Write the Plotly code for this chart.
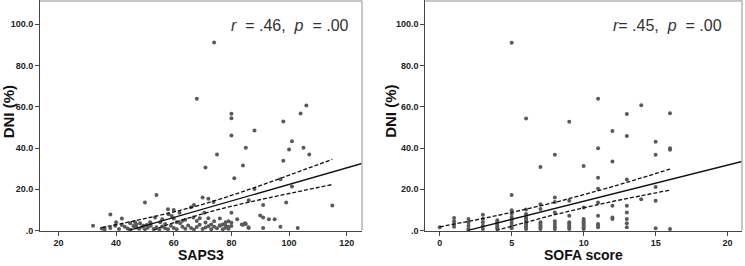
import plotly.graph_objects as go

# ---------------- data ----------------
saps3 = [74, 68, 80, 80, 80, 88, 106, 104, 98, 101, 100, 105, 107, 98, 75, 85, 71, 84, 81, 97,
         88, 101, 115, 99, 91, 50, 54, 70, 72, 38, 42, 32, 58, 60, 62, 66, 67, 80, 82, 86,
         90, 91, 93, 95, 91, 97, 103, 86, 85, 84, 78, 76,
         35, 36, 40, 39.7, 42, 44.9, 46.6, 48.3, 49.5, 50.6, 53.5, 51.8, 55.3, 58.2, 59.3, 61, 62.2,
         66.8, 68, 70.6, 73.8, 76, 77, 78, 79, 80, 83.6, 84.7, 85.9,
         36, 38, 41, 43, 44, 45, 46, 47, 48, 49, 50, 51, 52, 53, 54, 55, 56, 57, 58, 59, 60, 61,
         63, 64, 65, 66, 67, 68, 69, 70, 71, 72, 73, 74, 75, 76, 77, 78, 79, 80,
         56, 60, 64, 69, 72, 74, 57, 47, 52, 63, 71, 73, 79]
saps3_dni = [91.1, 63.9, 56.6, 54.4, 46.1, 48.5, 60.6, 56.7, 52.9, 43.3, 39.3, 40.1, 36.9, 33.8, 36.9, 40.1, 30.6, 31.5, 25.4, 24.9,
             20.1, 21.4, 12.2, 13.6, 12.4, 13.6, 17.3, 16.0, 15.4, 7.8, 5.9, 2.4, 10.3, 10.0, 8.6, 11.3, 12.4, 8.6, 5.5, 14.7,
             7.3, 6.3, 5.5, 5.5, 1.3, 1.9, 1.3, 1.3, 3.2, 2.8, 2.4, 5.9,
             1.0, 1.3, 4.0, 2.4, 2.7, 3.5, 4.0, 3.6, 2.4, 2.7, 6.3, 4.0, 4.0, 7.9, 7.1, 4.0, 3.6,
             6.3, 4.7, 8.7, 13.8, 2.4, 3.0, 4.0, 4.5, 3.8, 3.0, 3.5, 1.6,
             0.5, 1.2, 0.8, 1.8, 1.0, 0.4, 2.2, 1.5, 0.9, 1.9, 0.6, 1.4, 2.3, 0.8, 1.6, 0.5, 2.0, 1.1, 0.7, 2.4, 1.3, 0.6,
             1.8, 0.9, 2.5, 1.2, 0.5, 1.7, 2.8, 0.8, 1.5, 2.1, 0.6, 1.9, 1.1, 2.6, 0.7, 1.4, 0.9, 2.2,
             5.5, 5.9, 5.2, 6.0, 6.0, 4.5, 3.2, 2.9, 3.4, 4.8, 3.9, 2.9, 1.8]

sofa = ([0] + [1] * 4 + [2] * 5 + [3] * 5 + [4] * 6 + [5] * 9 + [6] * 11 + [7] * 8 + [8] * 8 +
        [9] * 8 + [10] * 9 + [11] * 9 + [12] * 5 + [13] * 8 + [14] * 2 + [15] * 5 + [16] * 4)
sofa_dni = [1.6,
            6.1, 4.5, 3.2, 1.9,
            5.6, 4.0, 2.4, 0.8, 0.3,
            7.7, 5.6, 4.0, 2.4, 0.8,
            5.0, 4.0, 3.2, 2.4, 1.6, 0.8,
            91.0, 17.3, 9.9, 8.0, 6.4, 5.1, 3.7, 2.4, 1.1,
            54.3, 10.2, 8.0, 6.4, 5.6, 4.8, 4.0, 3.2, 2.4, 1.6, 0.8,
            30.8, 12.8, 10.4, 4.0, 3.2, 2.4, 1.6, 0.8,
            36.7, 16.0, 13.9, 8.8, 4.5, 3.2, 1.9, 0.8,
            52.7, 14.4, 7.2, 4.0, 3.2, 2.4, 1.6, 0.8,
            31.3, 11.2, 5.6, 4.8, 4.0, 3.2, 2.4, 1.6, 0.8,
            63.9, 39.9, 25.6, 20.3, 13.6, 7.2, 3.2, 2.4, 1.6,
            48.2, 33.5, 12.0, 6.4, 5.6,
            56.5, 45.8, 24.8, 12.0, 8.8, 5.6, 3.5, 1.6,
            60.7, 15.2,
            43.1, 36.7, 21.1, 14.4, 1.1,
            56.9, 39.9, 39.2, 0.8]

# fit lines and 95% CI of the mean
saps3_fit_x = [44.1, 125.3]
saps3_fit_y = [0.0, 32.5]
saps3_ci_x = [35, 45, 55, 65, 75, 85, 95, 105, 115]
saps3_ci_up = [1.4, 4.3, 7.4, 10.8, 14.8, 19.4, 24.3, 29.4, 34.5]
saps3_ci_lo_x = [53, 55, 65, 75, 85, 95, 105, 115]
saps3_ci_lo = [0.0, 1.4, 6.0, 10.0, 13.4, 16.5, 19.4, 22.3]

sofa_fit_x = [1.9, 21.0]
sofa_fit_y = [0.0, 33.5]
sofa_ci_x = [0, 2, 4, 6, 8, 10, 12, 14, 16]
sofa_ci_up = [1.8, 4.5, 7.3, 10.4, 13.7, 17.4, 21.3, 25.5, 29.8]
sofa_ci_lo_x = [3.9, 6, 8, 10, 12, 14, 16]
sofa_ci_lo = [0.0, 4.0, 7.7, 11.0, 14.1, 16.9, 19.6]

y_ticks = [0, 20, 40, 60, 80, 100]
y_tick_text = [".0", "20.0", "40.0", "60.0", "80.0", "100.0"]
saps3_ticks = [20, 40, 60, 80, 100, 120]
sofa_ticks = [0, 5, 10, 15, 20]

stats_left = "<i>r</i>&nbsp;&nbsp;=&nbsp;.46,&nbsp;&nbsp;<i>p</i>&nbsp;&nbsp;=&nbsp;.00"
stats_right = "<i>r</i>=&nbsp;.45,&nbsp;&nbsp;<i>p</i>&nbsp;&nbsp;=&nbsp;.00"

# ---------------- layout geometry ----------------
W, H = 745, 266
L1, R1 = 40, 362
L2, R2 = 425.3, 742
TOP, BOT = 0.5, 235

def px(x):
    return x / W

def py(y):
    return 1 - y / H

fig = go.Figure()

mk = dict(size=4, color="#5a5a5a")
for xs, ys, xa, ya in [(saps3, saps3_dni, "x", "y"), (sofa, sofa_dni, "x2", "y2")]:
    fig.add_trace(go.Scatter(x=xs, y=ys, mode="markers", marker=mk, xaxis=xa, yaxis=ya,
                             showlegend=False, cliponaxis=False))

line_solid = dict(color="#111111", width=1.4)
line_dash = dict(color="#111111", width=1.3, dash="4px,2px")
fig.add_trace(go.Scatter(x=saps3_fit_x, y=saps3_fit_y, mode="lines", line=line_solid, xaxis="x", yaxis="y", showlegend=False))
fig.add_trace(go.Scatter(x=saps3_ci_x, y=saps3_ci_up, mode="lines", line=dict(line_dash, shape="spline"), xaxis="x", yaxis="y", showlegend=False))
fig.add_trace(go.Scatter(x=saps3_ci_lo_x, y=saps3_ci_lo, mode="lines", line=dict(line_dash, shape="spline"), xaxis="x", yaxis="y", showlegend=False))
fig.add_trace(go.Scatter(x=sofa_fit_x, y=sofa_fit_y, mode="lines", line=line_solid, xaxis="x2", yaxis="y2", showlegend=False))
fig.add_trace(go.Scatter(x=sofa_ci_x, y=sofa_ci_up, mode="lines", line=dict(line_dash, shape="spline"), xaxis="x2", yaxis="y2", showlegend=False))
fig.add_trace(go.Scatter(x=sofa_ci_lo_x, y=sofa_ci_lo, mode="lines", line=dict(line_dash, shape="spline"), xaxis="x2", yaxis="y2", showlegend=False))

tickfont = dict(family="Liberation Sans, Arial", size=9, color="#222222", weight="bold")
axis_common = dict(showgrid=False, zeroline=False, showline=True, linecolor="#444444", linewidth=1,
                   ticks="outside", ticklen=4, tickwidth=1, tickcolor="#444444", tickfont=tickfont)

fig.update_layout(
    width=W, height=H,
    margin=dict(l=0, r=0, t=0, b=0),
    paper_bgcolor="white", plot_bgcolor="white",
    xaxis=dict(axis_common, domain=[px(L1), px(R1)], range=[13.6, 125.3], tickvals=saps3_ticks,
               anchor="y"),
    yaxis=dict(axis_common, domain=[py(BOT), py(TOP)], range=[0, 111.5], tickvals=y_ticks,
               ticktext=y_tick_text, anchor="x"),
    xaxis2=dict(axis_common, domain=[px(L2), px(R2)], range=[-1.0, 21.0], tickvals=sofa_ticks,
                anchor="y2"),
    yaxis2=dict(axis_common, domain=[py(BOT), py(TOP)], range=[0, 111.5], tickvals=y_ticks,
                ticktext=y_tick_text, anchor="x2"),
)

# light frame on top / right of each plot area
for l, r in [(L1, R1), (L2, R2)]:
    fig.add_shape(type="line", xref="paper", yref="paper", x0=px(l), x1=px(r), y0=py(TOP + 0.5), y1=py(TOP + 0.5),
                  line=dict(color="#b4b4b4", width=1.5))
    fig.add_shape(type="line", xref="paper", yref="paper", x0=px(r), x1=px(r), y0=py(BOT), y1=py(TOP),
                  line=dict(color="#b4b4b4", width=1.5))

title_font = dict(family="Liberation Sans, Arial", size=14, color="#111111", weight="bold")
ytitle_font = dict(family="Liberation Sans, Arial", size=15, color="#111111", weight="bold")
stat_font = dict(family="Liberation Sans, Arial", size=16, color="#333333")
ann = [
    dict(text="SAPS3", x=px((L1 + R1) / 2), y=py(259.5), font=title_font, xanchor="center", borderpad=0),
    dict(text="SOFA score", x=px((L2 + R2) / 2), y=py(259.5), font=title_font, xanchor="center", borderpad=0),
    dict(text="DNI (%)", x=px(8.5), y=py(114), font=ytitle_font, textangle=-90, xanchor="center"),
    dict(text="DNI (%)", x=px(391), y=py(114), font=ytitle_font, textangle=-90, xanchor="center"),
    dict(text=stats_left, x=px(229), y=py(26), font=stat_font, xanchor="left"),
    dict(text=stats_right, x=px(611), y=py(26), font=stat_font, xanchor="left"),
]
for a in ann:
    fig.add_annotation(xref="paper", yref="paper", showarrow=False, yanchor="middle", **a)

fig.write_html("out.html", config={"displayModeBar": False},
               post_script="document.body.style.margin='0';document.body.style.padding='0';")
